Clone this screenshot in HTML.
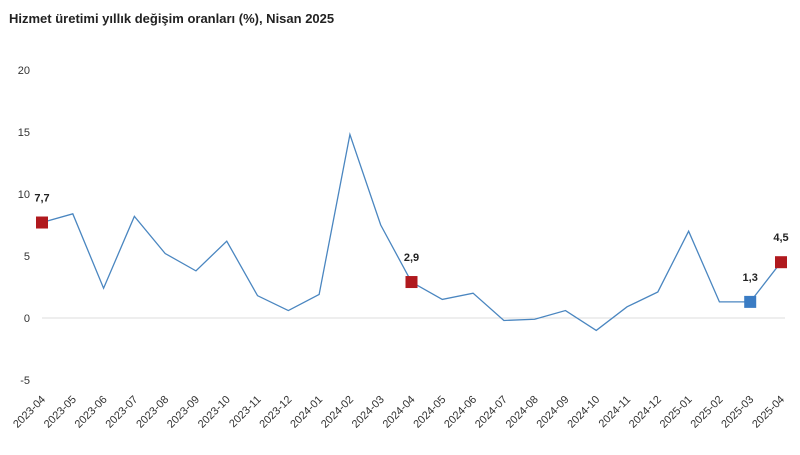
<!DOCTYPE html>
<html><head><meta charset="utf-8"><style>
body{margin:0;background:#fff;}
svg{font-family:"Liberation Sans",sans-serif;}
</style></head><body>
<svg width="800" height="450">
<text x="9" y="23" font-size="13" font-weight="bold" fill="#222">Hizmet üretimi yıllık değişim oranları (%), Nisan 2025</text>
<g id="g"></g>
</svg>
<script>
const categories=["2023-04","2023-05","2023-06","2023-07","2023-08","2023-09","2023-10","2023-11","2023-12","2024-01","2024-02","2024-03","2024-04","2024-05","2024-06","2024-07","2024-08","2024-09","2024-10","2024-11","2024-12","2025-01","2025-02","2025-03","2025-04"];
const values=[7.7,8.4,2.4,8.2,5.2,3.8,6.2,1.8,0.6,1.9,14.8,7.5,2.9,1.5,2.0,-0.2,-0.1,0.6,-1.0,0.9,2.1,7.0,1.3,1.3,4.5];
const yTicks=[-5,0,5,10,15,20];
const markers=[{i:0,c:"#b0191e",l:"7,7"},{i:12,c:"#b0191e",l:"2,9"},{i:23,c:"#3a7cc4",l:"1,3"},{i:24,c:"#b0191e",l:"4,5"}];
const NS="http://www.w3.org/2000/svg",g=document.getElementById('g');
const x=i=>42+i*(781-42)/(categories.length-1);
const y=v=>318-v*12.4;
function mk(t,a){const e=document.createElementNS(NS,t);for(const k in a)e.setAttribute(k,a[k]);g.appendChild(e);return e;}
const zl=mk('line',{x1:42,x2:785,y1:y(0),y2:y(0),stroke:"#ddd"});


yTicks.forEach(t=>{const e=mk('text',{x:30,y:y(t)+4,"font-size":11,fill:"#333","text-anchor":"end"});e.textContent=t;

});
categories.forEach((c,i)=>{const e=mk('text',{x:x(i)+4,y:400,"font-size":11,fill:"#333","text-anchor":"end",transform:`rotate(-45 ${x(i)+4} 400)`});e.textContent=c;

});
const p=mk('polyline',{points:values.map((v,i)=>x(i)+","+y(v)).join(" "),fill:"none",stroke:"#4a86c0","stroke-width":1.3});


markers.forEach(m=>{const v=values[m.i];const r=mk('rect',{x:x(m.i)-6,y:y(v)-6,width:12,height:12,fill:m.c});


const t=mk('text',{x:x(m.i),y:y(v)-21,"font-size":11,"font-weight":"bold",fill:"#222","text-anchor":"middle"});t.textContent=m.l;

});
</script>
</body></html>
